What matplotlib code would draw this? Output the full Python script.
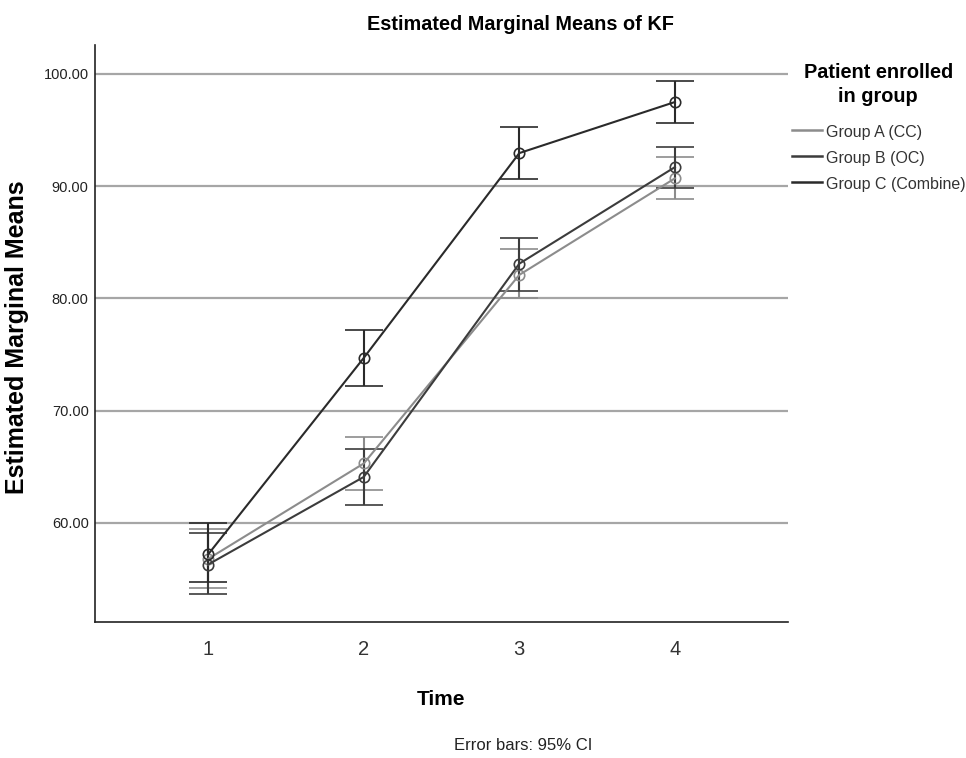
import matplotlib
matplotlib.use("Agg")
import matplotlib.pyplot as plt
from matplotlib.lines import Line2D

plt.rcParams['font.family'] = ['Liberation Sans', 'DejaVu Sans']

time = [1, 2, 3, 4]
groups = ["Group A (CC)", "Group B (OC)", "Group C (Combine)"]
mean_a = [56.8, 65.3, 82.1, 90.7]
low_a = [54.2, 62.9, 80.0, 88.9]
high_a = [59.5, 67.7, 84.4, 92.6]
mean_b = [56.3, 64.1, 83.1, 91.7]
low_b = [53.7, 61.6, 80.7, 89.8]
high_b = [59.1, 66.6, 85.4, 93.5]
mean_c = [57.2, 74.7, 92.95, 97.5]
low_c = [54.7, 72.2, 90.6, 95.6]
high_c = [60.0, 77.2, 95.3, 99.4]
yticks = [60, 70, 80, 90, 100]
colors = ["#8c8c8c", "#3c3c3c", "#2a2a2a"]

W, H = 966, 758
fig = plt.figure(figsize=(W/100, H/100), dpi=100)
ax = fig.add_axes([95/W, 1-622/H, (788-95)/W, (622-45)/H])

for yv in yticks:
    ax.axhline(yv, color="#a6a6a6", lw=1.6, zorder=1)

series = [(mean_a, low_a, high_a), (mean_b, low_b, high_b), (mean_c, low_c, high_c)]
for (m, lo, hi), col in zip(series, colors):
    yerr = [[mm - l for mm, l in zip(m, lo)], [h - mm for mm, h in zip(m, hi)]]
    ax.errorbar(time, m, yerr=yerr, color=col, lw=1.5, elinewidth=1.5,
                capsize=13.5, capthick=2.2, marker='o', markersize=7.5,
                markerfacecolor='none', markeredgecolor=col, markeredgewidth=1.2,
                zorder=3)

ax.set_xlim(0.273, 4.727)
ax.set_ylim(51.18, 102.58)
ax.set_xticks(time)
ax.set_xticklabels([str(t) for t in time], fontsize=14.5, color="#333333")
ax.set_yticks(yticks)
ax.set_yticklabels([f"{v:.2f}" for v in yticks], fontsize=10.5, color="#222222")
ax.tick_params(axis='both', length=0)
ax.tick_params(axis='x', pad=13)
ax.tick_params(axis='y', pad=4.5)
for s in ['top', 'right']:
    ax.spines[s].set_visible(False)
for s in ['left', 'bottom']:
    ax.spines[s].set_color("#222222")
    ax.spines[s].set_linewidth(1.2)

ax.set_xlabel("Time", fontsize=15, fontweight='bold')
ax.xaxis.set_label_coords(0.5, -0.117)
ax.set_ylabel("Estimated Marginal Means", fontsize=18, fontweight='bold')
ax.yaxis.set_label_coords(-0.0955, 0.494)

fig.text(520/W, 1-25/H, "Estimated Marginal Means of KF", fontsize=14.3,
         fontweight='bold', ha='center', va='center')
fig.text(523/W, 1-745/H, "Error bars: 95% CI", fontsize=12, ha='center',
         va='center', color="#222222")

# legend (drawn as figure text and lines)
fig.text(879/W, 1-72/H, "Patient enrolled", fontsize=14.3, fontweight='bold',
         ha='center', va='center')
fig.text(878/W, 1-97/H, "in group", fontsize=14.3, fontweight='bold',
         ha='center', va='center')
for i, (g, c) in enumerate(zip(groups, colors)):
    yy = 130 + 26 * i
    fig.add_artist(Line2D([792/W, 822/W], [1-yy/H, 1-yy/H], color=c, lw=1.8,
                          transform=fig.transFigure))
    fig.text(826/W, 1-(yy+2)/H, g, fontsize=11.5, ha='left', va='center',
             color="#333333")

fig.savefig("out.png", dpi=100)
